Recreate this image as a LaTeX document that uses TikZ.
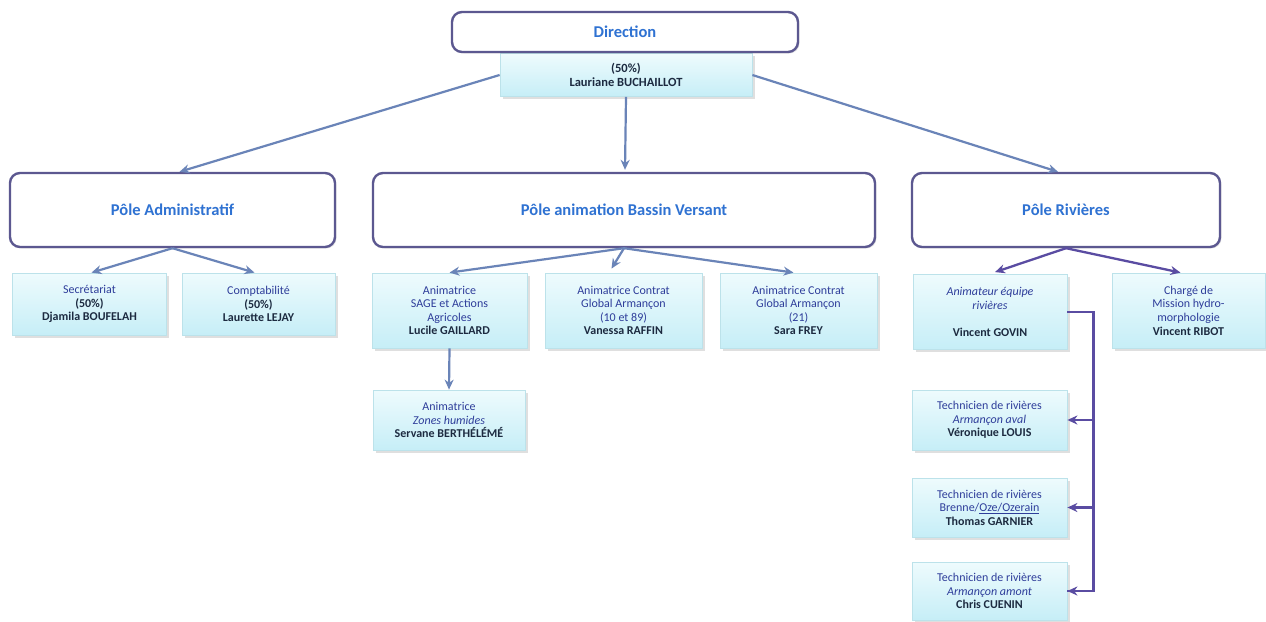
\documentclass[tikz,border=0pt]{standalone}
\usepackage{fontspec}
\setmainfont{Carlito}
\usetikzlibrary{arrows.meta,shadows,calc}
\definecolor{polebd}{HTML}{5C5890}
\definecolor{poletx}{HTML}{2F72D2}
\definecolor{subtop}{HTML}{EEFBFD}
\definecolor{subbot}{HTML}{C6EEF7}
\definecolor{subbd}{HTML}{BCE2EA}
\definecolor{subtitle}{HTML}{2E3D9A}
\definecolor{subname}{HTML}{1C2A40}
\definecolor{arrA}{HTML}{6A84B8}
\definecolor{arrB}{HTML}{5A4CA2}
\tikzset{
  pole/.style={draw=polebd, line width=2.4pt, fill=white, rounded corners=10pt,
    inner sep=0pt, font=\fontsize{16.5}{19}\selectfont\bfseries\color{poletx},
    drop shadow={shadow xshift=1.5pt, shadow yshift=-1.5pt, opacity=0.18}},
  subbox/.style={draw=subbd, line width=0.8pt, top color=subtop, bottom color=subbot,
    inner sep=0pt, align=center, font=\fontsize{12}{13.6}\selectfont,
    drop shadow={shadow xshift=2.5pt, shadow yshift=-2.5pt, opacity=0.25}},
  arr/.style={-{Stealth[length=10pt,width=9pt]}, draw=arrA, line width=2.2pt},
  arrp/.style={-{Stealth[length=10pt,width=9pt]}, draw=arrB, line width=2.3pt},
  linep/.style={draw=arrB, line width=2.3pt},
}
\newcommand{\ttl}[1]{{\color{subtitle}#1}}
\newcommand{\nm}[1]{{\bfseries\color{subname}#1}}
\begin{document}
\begin{tikzpicture}[x=1pt,y=-1pt]
\useasboundingbox (0,0) rectangle (1266,621);
\fill[white] (0,0) rectangle (1266,621);

% top
\node[subbox, minimum width=252pt, minimum height=43pt, font=\fontsize{12.5}{14}\selectfont] (laur) at (626,75)
  {\nm{(50\%)}\\\nm{Lauriane BUCHAILLOT}};
\node[pole, minimum width=346pt, minimum height=40pt] (dir) at (625,32) {Direction};

% poles
\node[pole, minimum width=325pt, minimum height=74pt] (poleA) at (172.5,210) {Pôle Administratif};
\node[pole, minimum width=502pt, minimum height=74pt] (poleB) at (624,210) {Pôle animation Bassin Versant};
\node[pole, minimum width=308pt, minimum height=74pt] (poleC) at (1066,210) {Pôle Rivières};

% administratif
\node[subbox, minimum width=154pt, minimum height=62pt] (sec) at (89.5,304)
  {\ttl{Secrétariat}\\\nm{(50\%)}\\\nm{Djamila BOUFELAH}};
\node[subbox, minimum width=153pt, minimum height=62pt] (comp) at (258.5,304)
  {\ttl{Comptabilité}\\\nm{(50\%)}\\\nm{Laurette LEJAY}};

% animation
\node[subbox, minimum width=155pt, minimum height=75pt] (luc) at (449.5,310.5)
  {\ttl{Animatrice}\\\ttl{SAGE et Actions}\\\ttl{Agricoles}\\\nm{Lucile GAILLARD}};
\node[subbox, minimum width=157pt, minimum height=75pt] (van) at (623.5,310.5)
  {\ttl{Animatrice Contrat}\\\ttl{Global Armançon}\\\ttl{(10 et 89)}\\\nm{Vanessa RAFFIN}};
\node[subbox, minimum width=157pt, minimum height=75pt] (sara) at (798.5,310.5)
  {\ttl{Animatrice Contrat}\\\ttl{Global Armançon}\\\ttl{(21)}\\\nm{Sara FREY}};
\node[subbox, minimum width=152pt, minimum height=60pt] (serv) at (449,420)
  {\ttl{Animatrice}\\\ttl{\itshape Zones humides}\\\nm{Servane BERTHÉLÉMÉ}};

% rivieres
\node[subbox, minimum width=154pt, minimum height=75pt] (gov) at (990,312)
  {\ttl{\itshape Animateur équipe}\\\ttl{\itshape rivières}\\[13.6pt]\nm{Vincent GOVIN}};
\node[subbox, minimum width=153pt, minimum height=75pt] (rib) at (1188.5,310.5)
  {\ttl{Chargé de}\\\ttl{Mission hydro-}\\\ttl{morphologie}\\\nm{Vincent RIBOT}};
\node[subbox, minimum width=155pt, minimum height=60pt] (t1) at (989.5,420)
  {\ttl{Technicien de rivières}\\\ttl{\itshape Armançon aval}\\\nm{Véronique LOUIS}};
\node[subbox, minimum width=155pt, minimum height=59pt] (t2) at (989.5,507.5)
  {\ttl{Technicien de rivières}\\\ttl{Brenne/\underline{Oze/Ozerain}}\\\nm{Thomas GARNIER}};
\node[subbox, minimum width=155pt, minimum height=58pt] (t3) at (989.5,591)
  {\ttl{Technicien de rivières}\\\ttl{\itshape Armançon amont}\\\nm{Chris CUENIN}};

% connectors
\draw[arr] (laur.west) -- ($(poleA.north)+(7,0)$);
\draw[arr] (laur.south) -- ($(poleB.north)+(1,-2)$);
\draw[arr] (laur.east) -- ($(poleC.north)+(-8,0)$);

\draw[arr] (poleA.south) -- ($(sec.north)+(2,0)$);
\draw[arr] (poleA.south) -- ($(comp.north)+(-4,0)$);

\draw[arr] (poleB.south) -- ($(luc.north)+(0,0)$);
\draw[arr] (poleB.south) -- ($(van.north)+(-12,-4)$);
\draw[arr] (poleB.south) -- ($(sara.north)+(-5,0)$);
\draw[arr] (luc.south) -- (serv.north);

\draw[arrp] (poleC.south) -- ($(gov.north)+(5,-2)$);
\draw[arrp] (poleC.south) -- ($(rib.north)+(-8,0)$);

\coordinate (bus) at ($(gov.east)+(26,0)$);
\coordinate (busend) at (bus |- t3.east);
\draw[linep] (gov.east) -- (bus) -- (busend) -- (t3.east);
\draw[arrp] (bus |- t1.east) -- (t1.east);
\draw[arrp] (bus |- t2.east) -- (t2.east);
\draw[arrp] (busend) -- (t3.east);
\end{tikzpicture}
\end{document}
